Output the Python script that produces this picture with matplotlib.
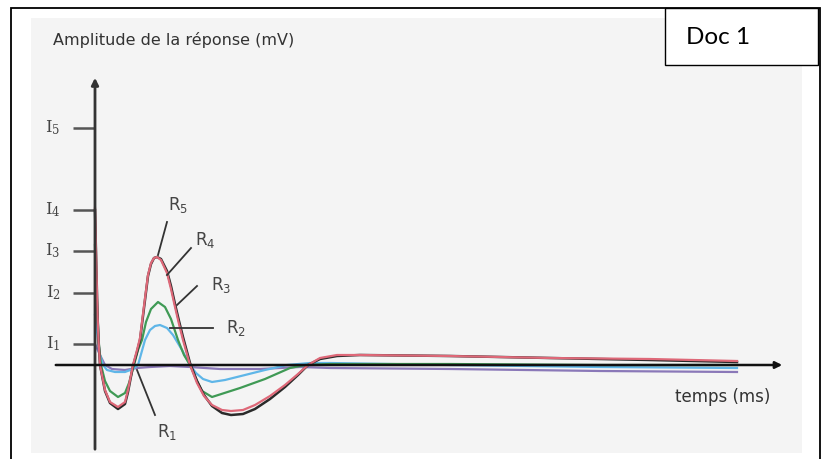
import numpy as np
import matplotlib
matplotlib.use("Agg")
import matplotlib.pyplot as plt
from matplotlib.patches import Rectangle

# stimulus intensity levels (mV)
levels = [2.1, 7.2, 11.4, 15.5, 23.7]
level_labels = ["1", "2", "3", "4", "5"]

# responses R1..R5 (time in ms, amplitude in mV)
t_r1 = [0, 0.5, 1.0, 1.7, 3.0, 4.2, 5.5, 7.5, 9.5, 12.5, 16.5, 20.5, 23.5, 35.5, 50.5, 64.2]
a_r1 = [2.1, 1.0, 0.0, -0.4, -0.5, -0.3, -0.2, -0.1, -0.2, -0.4, -0.4, -0.2, -0.3, -0.4, -0.6, -0.7]

t_r2 = [0, 0.3, 0.5, 0.8, 1.2, 2.0, 3.0, 3.8, 4.3, 5.0, 5.5, 6.0, 6.5, 7.2, 7.8, 8.7, 9.5,
        10.1, 10.8, 11.7, 13.0, 15.0, 17.0, 19.2, 21.5, 23.5, 35.5, 50.5, 64.2]
a_r2 = [5.0, 2.5, 1.0, 0.0, -0.5, -0.7, -0.7, -0.4, 0.0, 2.5, 3.5, 3.9, 4.0, 3.7, 3.0, 1.5, 0.0,
        -0.8, -1.4, -1.7, -1.5, -1.0, -0.5, 0.0, 0.2, 0.2, 0.0, -0.2, -0.3]

t_r3 = [0, 0.25, 0.4, 0.6, 1.0, 1.5, 2.3, 3.0, 3.4, 3.9, 4.3, 4.7, 5.1, 5.6, 6.3, 7.0, 7.6, 8.3, 8.9,
        9.5, 10.1, 10.7, 11.7, 14.5, 17.0, 19.5, 21.0, 23.5, 35.5, 50.5, 64.2]
a_r3 = [12.0, 5.0, 2.0, 0.0, -1.6, -2.6, -3.2, -2.8, -1.8, 0.0, 1.5, 2.5, 4.3, 5.6, 6.3, 5.8, 4.6, 2.5, 1.0,
        0.0, -1.4, -2.6, -3.2, -2.3, -1.4, -0.3, 0.0, 0.1, 0.1, 0.0, 0.0]

t_r45 = [0, 0.25, 0.35, 0.5, 1.0, 1.5, 2.3, 3.0, 3.3, 3.8, 4.2, 4.5, 4.9, 5.3, 5.6, 5.9, 6.2, 6.6,
         7.2, 7.6, 8.0, 8.4, 8.8, 9.5, 10.2, 10.9, 11.7, 12.7, 13.6, 14.8, 16.0, 17.5, 19.0, 20.3,
         21.3, 22.5, 24.2, 26.5, 35.5, 45.5, 55.5, 64.2]
a_r4 = [15.5, 5.0, 2.5, 0.0, -2.6, -3.8, -4.4, -3.9, -2.7, -0.1, 1.3, 2.5, 5.7, 8.9, 10.1, 10.7, 10.8,
        10.6, 9.4, 7.9, 6.1, 4.4, 2.8, 0.2, -1.6, -3.0, -4.1, -4.8, -5.0, -4.9, -4.4, -3.4, -2.2, -1.0,
        0.0, 0.6, 0.9, 1.0, 0.9, 0.7, 0.5, 0.3]
a_r5 = [15.7, 5.0, 2.5, 0.0, -2.5, -3.7, -4.2, -3.7, -2.5, 0.0, 1.5, 2.7, 5.9, 9.0, 10.2, 10.7, 10.8,
        10.5, 9.2, 7.6, 5.8, 4.1, 2.5, 0.0, -1.8, -3.1, -4.0, -4.5, -4.6, -4.5, -4.0, -3.1, -2.0, -0.9,
        0.0, 0.7, 1.0, 1.0, 0.9, 0.7, 0.6, 0.4]

W, H = 822, 459
fig = plt.figure(figsize=(W / 100, H / 100), dpi=100)
fig.patch.set_facecolor("white")


def fx(x):
    return x / W


def fy(y):
    return 1 - y / H


# frame and grey panel (figure pixel positions)
fig.patches.append(Rectangle((fx(11), fy(470)), fx(820) - fx(11), fy(8) - fy(470),
                             transform=fig.transFigure, fill=False, ec="black", lw=1.3, zorder=0))
fig.patches.append(Rectangle((fx(31), fy(453)), fx(802) - fx(31), fy(18) - fy(453),
                             transform=fig.transFigure, fc="#f4f4f4", ec="none", zorder=0))

ax = fig.add_axes([0, 0, 1, 1])
ax.set_zorder(2)
ax.set_xlim(-9.5, 72.7)
ax.set_ylim(-9.4, 36.5)
ax.axis("off")
ax.patch.set_alpha(0)

# "Doc 1" box
ax.add_patch(Rectangle((fx(665), fy(65)), fx(818) - fx(665), fy(8) - fy(65),
                       transform=ax.transAxes, fc="white", ec="black", lw=1.0, zorder=5))
ax.text(fx(686), fy(38), "Doc 1", fontsize=17.5, family="Lato", va="center", ha="left",
        transform=ax.transAxes, zorder=6)

# axes with arrows
ax.annotate("", xy=(0, 29.0), xytext=(0, -8.7),
            arrowprops=dict(arrowstyle="-|>", color="#333333", lw=2.0, mutation_scale=10))
ax.annotate("", xy=(69.0, 0), xytext=(-4.2, 0),
            arrowprops=dict(arrowstyle="-|>", color="#111111", lw=1.8, mutation_scale=10))

# intensity ticks
for lv, lab in zip(levels, level_labels):
    ax.plot([-2.2, 0], [lv, lv], color="#555555", lw=1.8, solid_capstyle="butt")
    ax.text(-4.2, lv, r"$\mathrm{I}_{%s}$" % lab, fontsize=12, color="#444444",
            ha="center", va="center", math_fontfamily="dejavuserif")

# response curves
ax.plot(t_r1, a_r1, color="#8a78b8", lw=1.6)
ax.plot(t_r2, a_r2, color="#5fb6e8", lw=1.6)
ax.plot(t_r3, a_r3, color="#3f9a55", lw=1.6)
ax.plot(t_r45, a_r4, color="#2a2a2a", lw=1.8)
ax.plot(t_r45, a_r5, color="#de6878", lw=1.6)

# curve labels with leader lines
labels = [("5", (8.3, 16.0), (7.2, 14.3), (6.3, 11.0)),
          ("4", (11.0, 12.5), (9.6, 11.7), (7.2, 9.0)),
          ("3", (12.6, 8.0), (10.2, 7.9), (8.2, 6.0)),
          ("2", (14.1, 3.7), (11.8, 3.7), (7.5, 3.7)),
          ("1", (7.2, -6.7), (6.0, -5.0), (4.2, -0.5))]
for num, txt_pos, p0, p1 in labels:
    ax.plot([p0[0], p1[0]], [p0[1], p1[1]], color="#333333", lw=1.3)
    ax.text(txt_pos[0], txt_pos[1], r"$\mathrm{R}_{%s}$" % num, fontsize=12, color="#444444",
            ha="center", va="center", math_fontfamily="dejavusans")

ax.text(fx(53), fy(40), "Amplitude de la réponse (mV)", fontsize=11.5, color="#333333",
        va="center", ha="left", transform=ax.transAxes)
ax.text(fx(675), fy(397), "temps (ms)", fontsize=12, color="#333333", va="center", ha="left",
        transform=ax.transAxes)

fig.savefig("out.png", dpi=100)
